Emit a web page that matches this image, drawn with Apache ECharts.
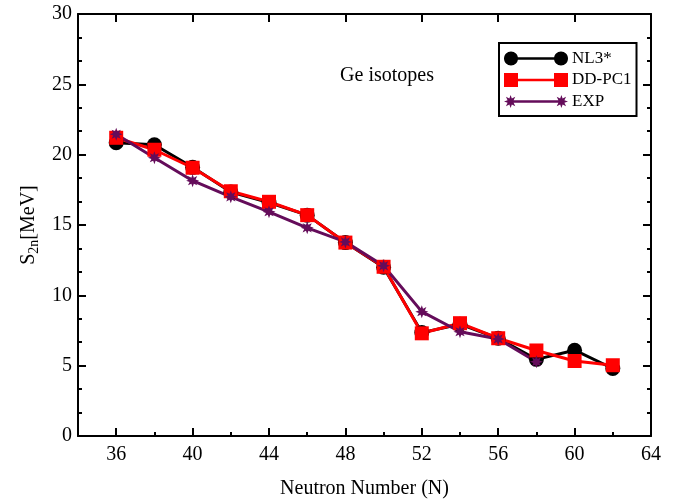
<!DOCTYPE html>
<html><head><meta charset="utf-8">
<script src="https://cdn.jsdelivr.net/npm/echarts@6/dist/echarts.min.js"></script>
<style>html,body{margin:0;padding:0;background:#fff}#c{width:675px;height:499px}</style>
</head><body><div id="c"></div>
<script>
const neutronN = [36,38,40,42,44,46,48,50,52,54,56,58,60,62];
const nl3Star = [20.85,20.7,19.1,17.35,16.6,15.7,13.75,12.0,7.35,7.95,6.95,5.45,6.1,4.8];
const ddpc1 = [21.2,20.35,19.07,17.4,16.65,15.7,13.75,12.03,7.3,8.02,6.95,6.08,5.33,5.03];
const expN = [36,38,40,42,44,46,48,50,52,54,56,58];
const expS2n = [21.45,19.78,18.15,17.0,15.94,14.8,13.8,12.1,8.84,7.41,6.9,5.28];
const xTickLabels = [36,40,44,48,52,56,60,64];
const seriesNames = ['NL3*','DD-PC1','EXP'];

const FONT = '"Liberation Serif","Times New Roman",serif';
const PURPLE = '#640c5a';

function starPath(cx, cy, R, r) {
  const p = [];
  for (let i = 0; i < 16; i++) {
    const a = (i * 22.5 - 90) * Math.PI / 180;
    const rr = i % 2 === 0 ? R : r;
    p.push((cx + rr * Math.cos(a)).toFixed(2) + ',' + (cy + rr * Math.sin(a)).toFixed(2));
  }
  return 'M' + p.join(' L') + ' Z';
}
function circPath(cx, cy, r) {
  const p = [];
  for (let i = 0; i < 32; i++) {
    const a = i / 32 * Math.PI * 2;
    p.push((cx + r * Math.cos(a)).toFixed(2) + ',' + (cy + r * Math.sin(a)).toFixed(2));
  }
  return 'M' + p.join(' L') + ' Z';
}
const starMarker = 'path://' + starPath(10, 10, 10, 5);
const lineRect = 'M7,5.8 L57,5.8 L57,8.2 L7,8.2 Z';
const iconNL3 = 'path://' + circPath(7, 7, 7) + ' ' + lineRect + ' ' + circPath(57, 7, 7);
const iconDD = 'path://M0,0 L14,0 L14,14 L0,14 Z ' + lineRect + ' M50,0 L64,0 L64,14 L50,14 Z';
const iconEXP = 'path://' + starPath(7, 7, 6.5, 3.2) + ' ' + lineRect + ' ' + starPath(57, 7, 6.5, 3.2);

const chart = echarts.init(document.getElementById('c'));
const axisLine = {lineStyle: {color: '#000', width: 2}};

chart.setOption({
  animation: false,
  backgroundColor: '#fff',
  textStyle: {fontFamily: FONT},
  title: {
    text: 'Ge isotopes', left: 382, top: 61, textAlign: 'center',
    textStyle: {fontFamily: FONT, fontSize: 20, fontWeight: 'normal', color: '#000'}
  },
  legend: {
    orient: 'vertical', left: 499, top: 43,
    padding: [7, 5, 6, 5], itemGap: 4.5,
    itemWidth: 64, itemHeight: 14,
    borderColor: '#000', borderWidth: 2, backgroundColor: '#fff',
    textStyle: {fontFamily: FONT, fontSize: 17, color: '#000', padding: [0, 0, 0, -1]},
    data: [
      {name: seriesNames[0], icon: iconNL3},
      {name: seriesNames[1], icon: iconDD},
      {name: seriesNames[2], icon: iconEXP}
    ]
  },
  grid: {left: 78, right: 24, top: 14, bottom: 63, containLabel: false, outerBoundsMode: 'none'},
  xAxis: [
    {
      type: 'value', min: 34, max: 64, position: 'bottom',
      name: 'Neutron Number (N)', nameLocation: 'middle', nameGap: 43,
      nameTextStyle: {fontFamily: FONT, fontSize: 20, color: '#000'},
      axisLine: axisLine,
      axisTick: {show: true, inside: true, length: 8, customValues: xTickLabels, lineStyle: {color: '#000', width: 2}},
      axisLabel: {customValues: xTickLabels, fontFamily: FONT, fontSize: 20, color: '#000', margin: 9},
      splitLine: {show: false}
    },
    {
      type: 'value', min: 34, max: 64, interval: 2, position: 'bottom',
      axisLine: {show: false},
      axisTick: {show: true, inside: true, length: 4, lineStyle: {color: '#000', width: 2}},
      axisLabel: {show: false}, splitLine: {show: false}
    },
    {
      type: 'value', min: 34, max: 64, position: 'top',
      axisLine: axisLine,
      axisTick: {show: true, inside: true, length: 8, customValues: xTickLabels, lineStyle: {color: '#000', width: 2}},
      axisLabel: {show: false}, splitLine: {show: false}
    }
  ],
  yAxis: [
    {
      type: 'value', min: 0, max: 30, interval: 5, position: 'left',
      name: '{a|S}{b|2n}{a|[MeV]}', nameLocation: 'middle', nameGap: 37, nameRotate: 90,
      nameTextStyle: {rich: {
        a: {fontFamily: FONT, fontSize: 20, color: '#000'},
        b: {fontFamily: FONT, fontSize: 14, color: '#000', verticalAlign: 'bottom', padding: [10, 0, 0, 0]}
      }},
      axisLine: axisLine,
      axisTick: {show: true, inside: true, length: 8, lineStyle: {color: '#000', width: 2}},
      minorTick: {show: true, splitNumber: 3, length: 4, lineStyle: {color: '#000', width: 2}},
      axisLabel: {fontFamily: FONT, fontSize: 20, color: '#000', margin: 6},
      splitLine: {show: false}
    },
    {
      type: 'value', min: 0, max: 30, interval: 5, position: 'right',
      axisLine: axisLine,
      axisTick: {show: true, inside: true, length: 8, lineStyle: {color: '#000', width: 2}},
      minorTick: {show: true, splitNumber: 3, length: 4, lineStyle: {color: '#000', width: 2}},
      axisLabel: {show: false}, splitLine: {show: false}
    }
  ],
  series: [
    {
      name: seriesNames[0], type: 'line', xAxisIndex: 0, yAxisIndex: 0,
      data: neutronN.map((n, i) => [n, nl3Star[i]]),
      symbol: 'circle', symbolSize: 15,
      lineStyle: {color: '#000', width: 3},
      itemStyle: {color: '#000'}
    },
    {
      name: seriesNames[1], type: 'line', xAxisIndex: 0, yAxisIndex: 0,
      data: neutronN.map((n, i) => [n, ddpc1[i]]),
      symbol: 'rect', symbolSize: 14,
      lineStyle: {color: '#ff0000', width: 3},
      itemStyle: {color: '#ff0000'}
    },
    {
      name: seriesNames[2], type: 'line', xAxisIndex: 0, yAxisIndex: 0,
      data: expN.map((n, i) => [n, expS2n[i]]),
      symbol: starMarker, symbolSize: 13,
      lineStyle: {color: PURPLE, width: 3},
      itemStyle: {color: PURPLE}
    }
  ]
});
</script>
</body></html>
